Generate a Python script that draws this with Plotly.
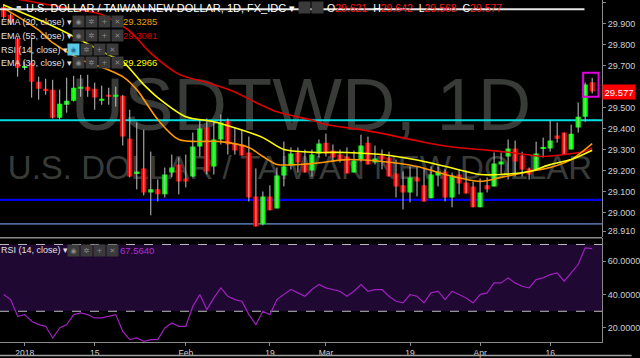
import plotly.graph_objects as go
import pandas as pd

# ---------------- data ----------------
dates = pd.bdate_range("2017-12-27", "2018-04-24")

opens = [29.981, 29.943, 29.829, 29.690, 29.714, 29.624, 29.590, 29.586, 29.452, 29.514,
         29.533, 29.590, 29.600, 29.590, 29.533, 29.562, 29.552, 29.557, 29.352, 29.186,
         29.210, 29.095, 29.110, 29.086, 29.190, 29.229, 29.162, 29.171, 29.314, 29.405,
         29.219, 29.348, 29.438, 29.329, 29.324, 29.286, 29.076, 28.943, 29.076, 29.019,
         29.176, 29.224, 29.286, 29.233, 29.200, 29.281, 29.333, 29.295, 29.276, 29.267,
         29.190, 29.252, 29.333, 29.238, 29.271, 29.262, 29.186, 29.129, 29.095, 29.167,
         29.129, 29.067, 29.176, 29.195, 29.071, 29.181, 29.143, 29.124, 29.024, 29.129,
         29.124, 29.229, 29.267, 29.305, 29.271, 29.210, 29.205, 29.307, 29.305, 29.367,
         29.381, 29.300, 29.405, 29.457, 29.621]
highs = [29.995, 29.950, 29.835, 29.720, 29.833, 29.648, 29.638, 29.633, 29.586, 29.643,
         29.652, 29.657, 29.657, 29.619, 29.605, 29.595, 29.600, 29.560, 29.490, 29.429,
         29.395, 29.290, 29.157, 29.214, 29.276, 29.262, 29.276, 29.381, 29.443, 29.448,
         29.433, 29.467, 29.448, 29.405, 29.395, 29.362, 29.210, 29.100, 29.129, 29.214,
         29.338, 29.310, 29.310, 29.300, 29.300, 29.348, 29.376, 29.324, 29.300, 29.310,
         29.295, 29.371, 29.362, 29.319, 29.300, 29.290, 29.252, 29.195, 29.219, 29.219,
         29.210, 29.219, 29.219, 29.205, 29.190, 29.205, 29.200, 29.148, 29.162, 29.167,
         29.286, 29.286, 29.348, 29.343, 29.290, 29.214, 29.338, 29.357, 29.438, 29.429,
         29.381, 29.419, 29.524, 29.620, 29.642]
lows = [29.925, 29.895, 29.648, 29.680, 29.548, 29.538, 29.562, 29.448, 29.443, 29.476,
        29.529, 29.552, 29.552, 29.490, 29.514, 29.514, 29.505, 29.319, 29.167, 29.110,
        29.081, 28.986, 29.052, 29.071, 29.167, 29.086, 29.119, 29.167, 29.267, 29.181,
        29.181, 29.324, 29.276, 29.276, 29.271, 29.052, 28.933, 28.938, 29.010, 29.019,
        29.124, 29.205, 29.190, 29.190, 29.171, 29.262, 29.267, 29.243, 29.238, 29.186,
        29.190, 29.243, 29.229, 29.229, 29.205, 29.171, 29.071, 29.014, 29.048, 29.076,
        29.052, 29.067, 29.124, 29.052, 29.024, 29.086, 29.090, 29.024, 29.024, 29.095,
        29.124, 29.181, 29.157, 29.171, 29.171, 29.157, 29.200, 29.262, 29.290, 29.333,
        29.276, 29.300, 29.381, 29.433, 29.568]
closes = [29.933, 29.905, 29.690, 29.698, 29.624, 29.590, 29.581, 29.452, 29.519, 29.533,
          29.595, 29.600, 29.581, 29.548, 29.543, 29.552, 29.562, 29.362, 29.171, 29.195,
          29.095, 29.110, 29.086, 29.181, 29.214, 29.148, 29.148, 29.314, 29.400, 29.195,
          29.348, 29.429, 29.324, 29.295, 29.271, 29.071, 28.933, 29.076, 29.010, 29.176,
          29.219, 29.281, 29.238, 29.190, 29.276, 29.329, 29.281, 29.262, 29.252, 29.186,
          29.248, 29.319, 29.229, 29.257, 29.252, 29.171, 29.124, 29.095, 29.167, 29.148,
          29.052, 29.181, 29.195, 29.071, 29.176, 29.138, 29.090, 29.024, 29.095, 29.110,
          29.233, 29.243, 29.305, 29.243, 29.205, 29.181, 29.281, 29.312, 29.343, 29.352,
          29.276, 29.376, 29.457, 29.610, 29.577]

rsi = [40, 37, 27, 28, 24, 22, 21, 14, 20, 22,
       28, 29, 28, 26, 26, 27, 28, 18, 13, 14,
       12, 13, 13, 20, 23, 21, 21, 33, 40, 31,
       38, 44, 39, 37, 36, 28, 22, 30, 28, 37,
       40, 43, 41, 39, 43, 46, 44, 43, 42, 39,
       42, 46, 42, 43, 43, 39, 36, 35, 40, 39,
       35, 41, 42, 37, 42, 40, 38, 35, 40, 41,
       47, 47, 50, 47, 45, 44, 49, 50, 52, 53,
       48, 53, 58, 68, 67.564]

ema20_dates = ["2017-12-27", "2018-01-03", "2018-01-05", "2018-01-11", "2018-01-17", "2018-01-19",
               "2018-01-23", "2018-01-26", "2018-01-31", "2018-02-08", "2018-02-14", "2018-02-16",
               "2018-02-20", "2018-02-27", "2018-03-06", "2018-03-13", "2018-03-20", "2018-03-26",
               "2018-04-02", "2018-04-05", "2018-04-11", "2018-04-16", "2018-04-19", "2018-04-24"]
ema20_vals = [29.975, 29.87, 29.81, 29.73, 29.68, 29.648, 29.586, 29.443, 29.348, 29.338, 29.31,
              29.267, 29.229, 29.233, 29.252, 29.243, 29.219, 29.181, 29.148, 29.167, 29.195,
              29.214, 29.252, 29.3285]

ema55_dates = ["2017-12-27", "2018-01-03", "2018-01-10", "2018-01-16", "2018-01-22", "2018-01-25",
               "2018-01-31", "2018-02-06", "2018-02-12", "2018-02-15", "2018-02-20", "2018-02-27",
               "2018-03-01", "2018-03-08", "2018-03-14", "2018-03-21", "2018-03-27", "2018-04-02",
               "2018-04-06", "2018-04-13", "2018-04-18", "2018-04-23", "2018-04-24"]
ema55_vals = [30.03, 30.00, 29.97, 29.945, 29.865, 29.76, 29.66, 29.62, 29.575, 29.525, 29.48,
              29.44, 29.42, 29.395, 29.37, 29.335, 29.312, 29.30, 29.287, 29.267, 29.276,
              29.292, 29.3081]

ema30_dates = ["2017-12-27", "2018-01-04", "2018-01-10", "2018-01-17", "2018-01-19", "2018-01-24",
               "2018-01-26", "2018-02-01", "2018-02-07", "2018-02-13", "2018-02-16", "2018-02-21",
               "2018-02-27", "2018-03-06", "2018-03-13", "2018-03-20", "2018-03-26", "2018-04-02",
               "2018-04-05", "2018-04-11", "2018-04-16", "2018-04-19", "2018-04-24"]
ema30_vals = [29.99, 29.905, 29.84, 29.752, 29.72, 29.61, 29.548, 29.457, 29.433, 29.393, 29.357,
              29.30, 29.287, 29.286, 29.276, 29.25, 29.22, 29.181, 29.181, 29.195, 29.228,
              29.252, 29.2966]

tick_dates = ["2018-01-01", "2018-01-15", "2018-02-01", "2018-02-19",
              "2018-03-01", "2018-03-19", "2018-04-02", "2018-04-16"]
tick_text = ["2018", "15", "Feb", "19", "Mar", "19", "Apr", "16"]

# 29.600 is hidden behind the last-price label in the reference
price_ticks = [30.0, 29.9, 29.8, 29.7, 29.5, 29.4, 29.3, 29.2, 29.1, 29.0, 28.91]
rsi_ticks = [20, 40, 60]

resistance = 29.44
support1 = 29.06
support2 = 28.945
top_line = 29.97
last_open, last_high, last_low, last_close = 29.621, 29.642, 29.568, 29.577

# ---------------- helpers ----------------
pos = {d.strftime("%Y-%m-%d"): i for i, d in enumerate(dates)}
idx = list(range(len(dates)))
FONT = "Liberation Sans, Arial, sans-serif"
PW, PH = 610.0, 343.0


def xp(px):
    return px / PW


def yp(py):
    return 1 - py / PH


fig = go.Figure()

# wicks
wx, wy = [], []
for i in idx:
    wx += [i, i, None]
    wy += [lows[i], highs[i], None]
fig.add_trace(go.Scatter(x=wx, y=wy, mode="lines", line=dict(color="#c4c4c4", width=1),
                         hoverinfo="skip", showlegend=False, yaxis="y"))

# bodies
base = [min(o, c) for o, c in zip(opens, closes)]
hgt = [max(abs(c - o), 0.004) for o, c in zip(opens, closes)]
cols = ["#00ff00" if c >= o else "#ff0000" for o, c in zip(opens, closes)]
fig.add_trace(go.Bar(x=idx, y=hgt, base=base, marker=dict(color=cols, line=dict(width=0)),
                     width=0.74, hoverinfo="skip", showlegend=False, yaxis="y"))

# EMAs
for dl, vl, col in [(ema55_dates, ema55_vals, "#e00000"),
                    (ema20_dates, ema20_vals, "#ff9900"),
                    (ema30_dates, ema30_vals, "#ffff00")]:
    fig.add_trace(go.Scatter(x=[pos[d] for d in dl], y=vl, mode="lines",
                             line=dict(color=col, width=1.6, shape="spline", smoothing=0.8),
                             hoverinfo="skip", showlegend=False, yaxis="y"))

# RSI
fig.add_trace(go.Scatter(x=idx, y=rsi, mode="lines", line=dict(color="#a020c0", width=1.2),
                         hoverinfo="skip", showlegend=False, yaxis="y2"))

shapes = []
# watermark
shapes.append(dict(type="rect", xref="paper", yref="paper", x0=xp(60), x1=xp(550),
                   y0=yp(135), y1=yp(60), line=dict(width=0), layer="below",
                   label=dict(text="USDTWD, 1D", textposition="middle center",
                              font=dict(size=74, color="#383b38", family=FONT))))
shapes.append(dict(type="rect", xref="paper", yref="paper", x0=xp(2), x1=xp(606),
                   y0=yp(185), y1=yp(145), line=dict(width=0), layer="below",
                   label=dict(text="U.S. DOLLAR / TAIWAN NEW DOLLAR", textposition="middle center",
                              font=dict(size=33, color="#383b38", family=FONT))))
# RSI band
shapes.append(dict(type="rect", xref="paper", yref="y2", x0=0, x1=1, y0=30, y1=70,
                   fillcolor="#1f0831", line=dict(width=0), layer="below"))
for lv in (30, 70):
    shapes.append(dict(type="line", xref="paper", yref="y2", x0=0, x1=1, y0=lv, y1=lv,
                       line=dict(color="#bdbdbd", width=1, dash="dash"), layer="below"))
# horizontal levels
for lv, col, w in [(resistance, "#00e0e0", 2), (support1, "#0000f0", 2.2), (support2, "#4a6a9a", 1.6)]:
    shapes.append(dict(type="line", xref="paper", yref="y", x0=0, x1=1, y0=lv, y1=lv,
                       line=dict(color=col, width=w), layer="below"))
shapes.append(dict(type="line", xref="x", yref="y", x0=-1, x1=82.9, y0=top_line, y1=top_line,
                   line=dict(color="#e6e6e6", width=2)))
# highlight box on last candle
shapes.append(dict(type="rect", xref="x", yref="y", x0=82.7, x1=84.9, y0=29.552, y1=29.667,
                   line=dict(color="#e000e0", width=2)))
# pane separator and bottom border
shapes.append(dict(type="line", xref="paper", yref="paper", x0=0, x1=1, y0=yp(238.5), y1=yp(238.5),
                   line=dict(color="#8a8a8a", width=1.5)))
shapes.append(dict(type="line", xref="paper", yref="paper", x0=0, x1=640 / PW, y0=yp(356.5), y1=yp(356.5),
                   line=dict(color="#a0a0a0", width=1.5)))

ann = []


def txt(t, px, py, color="#e0e0e0", size=9, xa="left"):
    ann.append(dict(text=t, x=xp(px), y=yp(py), xref="paper", yref="paper", xanchor=xa,
                    yanchor="middle", showarrow=False, font=dict(size=size, color=color, family=FONT)))


def icons(px0, py, first="#3a3a3a"):
    glyphs = ["◉", "✲", "+", "✕"]
    for k, g in enumerate(glyphs):
        ann.append(dict(text=g, x=xp(px0 + 13 * k), y=yp(py), xref="paper", yref="paper",
                        xanchor="left", yanchor="middle", showarrow=False, width=9, height=9,
                        bgcolor=first if k == 0 else "#3a3a3a",
                        font=dict(size=7, color="#2a6f8a" if (k == 0 and first != "#3a3a3a") else "#8a8a8a",
                                  family="DejaVu Sans")))


# title row
txt("■", 14, 8, "#d0d0d0", 9)
txt("U.S. DOLLAR / TAIWAN NEW DOLLAR, 1D, FX_IDC ▾", 24, 8, "#ffffff", 11)
for k in range(2):
    ann.append(dict(text="", x=xp(302 + 13 * k), y=yp(8), xref="paper", yref="paper", xanchor="left",
                    yanchor="middle", showarrow=False, width=9, height=9, bgcolor="#3a3a3a"))
ohlc = ("O<span style='color:#ff1a1a'>%.3f</span>  H<span style='color:#ff1a1a'>%.3f</span>  "
        "L<span style='color:#ff1a1a'>%.3f</span>  C<span style='color:#ff1a1a'>%.3f</span>"
        % (last_open, last_high, last_low, last_close))
txt(ohlc, 329, 8, "#ffffff", 10.5)

# indicator legend rows
txt("EMA (20, close) ▾", -1, 22, "#e0e0e0", 9)
icons(73, 22)
txt("%.4f" % ema20_vals[-1], 123, 22, "#f0a000", 9.5)
txt("EMA (55, close) ▾", -1, 36, "#e0e0e0", 9)
icons(73, 36)
txt("%.4f" % ema55_vals[-1], 123, 36, "#d00000", 9.5)
txt("RSI (14, close) ▾", -1, 50, "#e0e0e0", 9)
icons(68, 50, first="#5bc8e8")
txt("EMA (30, close) ▾", -1, 63, "#e0e0e0", 9)
icons(73, 63)
txt("%.4f" % ema30_vals[-1], 123, 63, "#ffff00", 9.5)
# RSI pane legend
txt("RSI (14, close) ▾", -1, 251, "#e0e0e0", 9)
icons(68, 251)
txt("%.4f" % rsi[-1], 120, 251, "#b030d0", 9.5)

# last price label
ann.append(dict(text="%.3f" % last_close, x=1.0, y=last_close, xref="paper", yref="y", xanchor="left",
                yanchor="middle", showarrow=False, bgcolor="#ff0000", width=30, height=12,
                font=dict(size=9.5, color="#ffffff", family=FONT)))

fig.update_layout(
    width=640, height=358,
    margin=dict(l=0, r=30, t=0, b=15),
    paper_bgcolor="#000000", plot_bgcolor="#000000",
    barmode="overlay", showlegend=False,
    shapes=shapes, annotations=ann,
    xaxis=dict(range=[-0.52, 85.4], domain=[0, 1], anchor="y2",
               tickvals=[pos[d] for d in tick_dates], ticktext=tick_text,
               showgrid=False, zeroline=False, showline=True, linecolor="#8a8a8a", linewidth=1,
               ticks="outside", ticklen=3, tickcolor="#8a8a8a",
               tickfont=dict(size=8.5, color="#d0d0d0", family=FONT)),
    yaxis=dict(domain=[1 - 238 / PH, 1], range=[28.881, 30.014], side="right", anchor="x",
               tickvals=price_ticks, ticktext=["%.3f" % v for v in price_ticks],
               showgrid=False, zeroline=False, showline=True, linecolor="#8a8a8a", linewidth=1,
               ticks="outside", ticklen=3, tickcolor="#8a8a8a",
               tickfont=dict(size=9, color="#d0d0d0", family=FONT)),
    yaxis2=dict(domain=[0, 1 - 239 / PH], range=[11.6, 73.7], side="right", anchor="x",
                tickvals=rsi_ticks, ticktext=["%.4f" % v for v in rsi_ticks],
                showgrid=False, zeroline=False, showline=True, linecolor="#8a8a8a", linewidth=1,
                ticks="outside", ticklen=3, tickcolor="#8a8a8a",
                tickfont=dict(size=9, color="#d0d0d0", family=FONT)),
)

fig.write_html("out.html")
